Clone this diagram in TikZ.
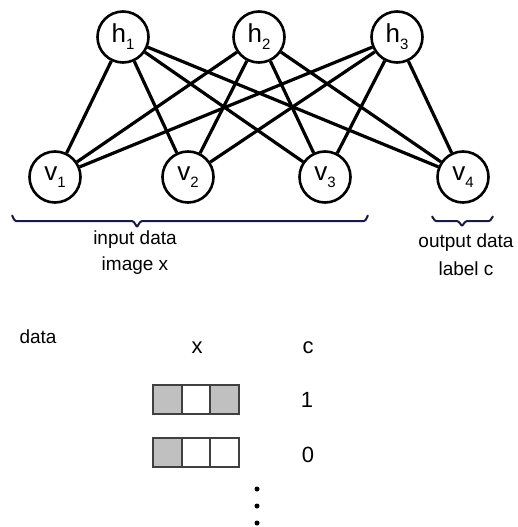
\documentclass[tikz,border=0pt]{standalone}
\usepackage{fontspec}
\setmainfont{Liberation Sans}
\begin{document}
\begin{tikzpicture}[x=1pt,y=-1pt,
  unit/.style={circle,draw=black,line width=2.6pt,fill=white,inner sep=0pt,minimum size=51pt},
  edge/.style={line width=3.2pt},
  bracepath/.style={draw=braceblue,line width=2pt,line cap=round,line join=round},
  caption/.style={font=\fontsize{19}{19}\selectfont,text=black,inner sep=0pt},
  tab/.style={font=\fontsize{22}{22}\selectfont,inner sep=0pt},
  cellbox/.style={draw=black!75,line width=1.5pt},
  dot/.style={circle,fill=black,inner sep=0pt,minimum size=5pt}]
\definecolor{braceblue}{RGB}{25,25,70}
\definecolor{cellgray}{RGB}{192,192,192}
\useasboundingbox (0,0) rectangle (517,527);
\newcommand{\unitlabel}[2]{\fontsize{26}{26}\selectfont #1\raisebox{-7pt}{\fontsize{15}{15}\selectfont #2}}

% hidden units
\node[unit] (h1) at (123,37) {\unitlabel{h}{1}};
\node[unit] (h2) at (259,37) {\unitlabel{h}{2}};
\node[unit] (h3) at (397,37) {\unitlabel{h}{3}};
% visible units
\node[unit] (v1) at (55,177) {\unitlabel{v}{1}};
\node[unit] (v2) at (188,177) {\unitlabel{v}{2}};
\node[unit] (v3) at (325,177) {\unitlabel{v}{3}};
\node[unit] (v4) at (463,177) {\unitlabel{v}{4}};

% full bipartite connections
\foreach \h in {h1,h2,h3}
  \foreach \v in {v1,v2,v3,v4}
    \draw[edge] (\h) -- (\v);

% braces
\path[bracepath] (12,216) to[out=90,in=180] (16,221) -- (132,221)
  to[out=0,in=-90] (137,226) to[out=-90,in=180] (142,221) -- (364,221)
  to[out=0,in=90] (368,216);
\path[bracepath] (432,217) to[out=90,in=180] (436,221) -- (457,221)
  to[out=0,in=-90] (462,225) to[out=-90,in=180] (467,221) -- (489,221)
  to[out=0,in=90] (493,217);

\node[caption] (in1) at (135,240) {input data};
\node[caption] (in2) at (135,266) {image x};
\node[caption] (out1) at (466,243) {output data};
\node[caption] (out2) at (466,269) {label c};

% data table
\node[caption] (data) at (38,337) {data};
\node[tab] (colx) at (197,348) {x};
\node[tab] (colc) at (308,348) {c};

\fill[cellgray] (153,385) rectangle (182,414);
\fill[cellgray] (210,385) rectangle (239,414);
\draw[cellbox] (153,385) rectangle (239,414);
\draw[cellbox] (182,385) -- (182,414) (210,385) -- (210,414);
\node[tab] (c1) at (307,400) {1};

\fill[cellgray] (153,438) rectangle (182,467);
\draw[cellbox] (153,438) rectangle (239,467);
\draw[cellbox] (182,438) -- (182,467) (210,438) -- (210,467);
\node[tab] (c0) at (308,455) {0};

\node[dot] (d1) at (257,489) {};
\node[dot] (d2) at (257,506) {};
\node[dot] (d3) at (257,523) {};
\end{tikzpicture}
\end{document}
